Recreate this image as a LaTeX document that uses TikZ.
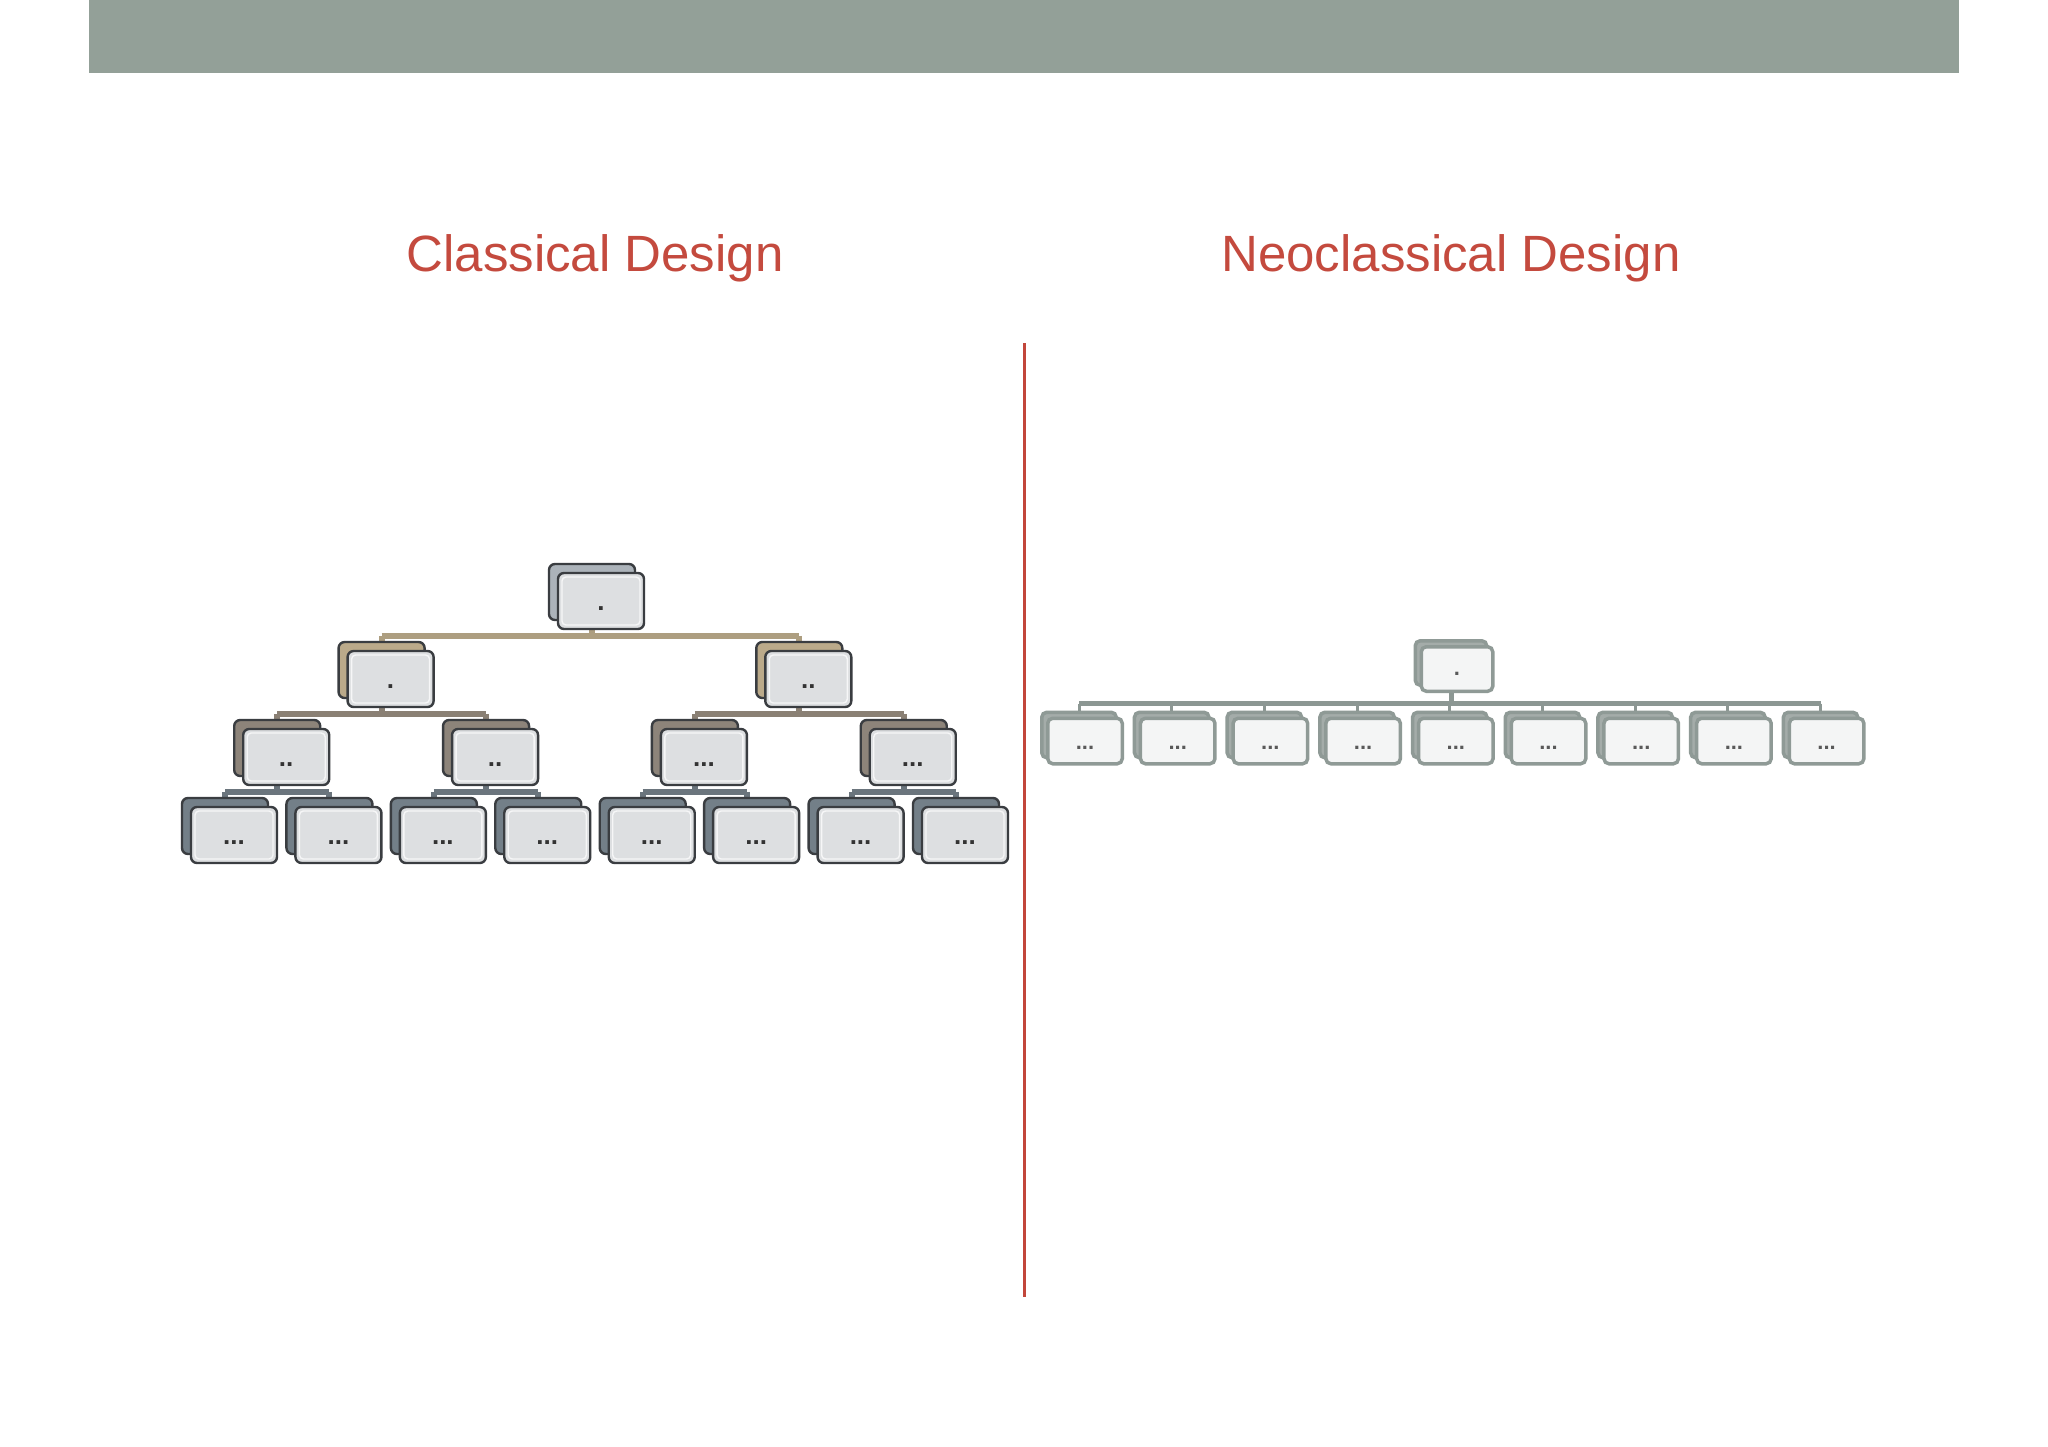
\documentclass[tikz,border=0pt]{standalone}
\usepackage{fontspec}
\setmainfont{Liberation Sans}
\usetikzlibrary{calc}
\pgfdeclarelayer{bg}
\pgfdeclarelayer{paper}
\pgfsetlayers{paper,bg,main}
\definecolor{hdr}{HTML}{93A098}
\definecolor{ttl}{HTML}{C44A3E}
\definecolor{redline}{HTML}{C2463B}
\definecolor{cborder}{HTML}{3A3D41}
\definecolor{cfront}{HTML}{DDDFE1}
\definecolor{back0}{HTML}{ACB3BA}
\definecolor{back1}{HTML}{BBAA8A}
\definecolor{back2}{HTML}{8D847A}
\definecolor{back3}{HTML}{737F88}
\definecolor{conn0}{HTML}{AD9E80}
\definecolor{conn1}{HTML}{8A8074}
\definecolor{conn2}{HTML}{6B757D}
\definecolor{nborder}{HTML}{8F9A96}
\definecolor{nfront}{HTML}{F4F5F5}
\definecolor{nback}{HTML}{A4ACA9}
\definecolor{nconn}{HTML}{8C9793}
\newcommand\mydots[1]{\ifcase#1\or.\or..\or...\fi}
\tikzset{
  cbox/.style={draw=cborder, line width=2.4pt, rounded corners=6pt,
    minimum width=86pt, minimum height=56pt, inner sep=0pt},
  cfrontbox/.style={cbox, fill=cfront,
    path picture={\draw[white, line width=1.4pt, opacity=0.75, rounded corners=4pt]
      ([shift={(4pt,-4pt)}]path picture bounding box.north west) rectangle
      ([shift={(-4pt,4pt)}]path picture bounding box.south east);}},
  cbackbox/.style={cbox, fill=#1},
  cconn/.style={line width=6pt, draw=#1},
  cdots/.style={font=\bfseries\fontsize{26}{26}\selectfont, text=black!80,
    anchor=base, inner sep=0pt},
  nbox/.style={draw=nborder, line width=3.5pt, rounded corners=5pt, inner sep=0pt},
  nfrontbox/.style={nbox, fill=nfront},
  nbackbox/.style={nbox, fill=nback},
  nconnbar/.style={line width=5pt, draw=nconn},
  ntick/.style={line width=3pt, draw=nconn},
  ndots/.style={font=\bfseries\fontsize{22}{22}\selectfont, text=black!65,
    anchor=base, inner sep=0pt},
  title/.style={font=\fontsize{51}{51}\selectfont, text=ttl, anchor=base, inner sep=0pt}
}
\begin{document}
\begin{tikzpicture}[x=1pt, y=-1pt]
\useasboundingbox (0,0) rectangle (2048,1447);
\begin{pgfonlayer}{paper}
\fill[white] (0,0) rectangle (2048,1447);
\end{pgfonlayer}
% header bar
\fill[hdr] (89,0) rectangle (1959,73);
% titles
\node[title] (tclass) at (595,272) {Classical Design};
\node[title] (tneo) at (1451,272) {Neoclassical Design};
% divider
\draw[redline, line width=3pt] (1024,343) -- (1024,1297);

% ---------- Classical tree ----------
% level 0
\node[cbackbox=back0] (b0) at (601-9,601-9) {};
\node[cfrontbox] (n0) at (601,601) {};
\node[cdots] (t0) at (601,610) {\mydots{1}};
% level 1
\foreach \k/\t in {0/1,1/2}{
  \pgfmathsetmacro\xx{390.6+417.7*\k}
  \node[cbackbox=back1] (b1-\k) at (\xx-9,679-9) {};
  \node[cfrontbox] (n1-\k) at (\xx,679) {};
  \node[cdots] (t1-\k) at (\xx,688) {\mydots{\t}};
}
% level 2
\foreach \j/\t in {0/2,1/2,2/3,3/3}{
  \pgfmathsetmacro\xx{286.2+208.86*\j}
  \node[cbackbox=back2] (b2-\j) at (\xx-9,757-9) {};
  \node[cfrontbox] (n2-\j) at (\xx,757) {};
  \node[cdots] (t2-\j) at (\xx,766) {\mydots{\t}};
}
% level 3
\foreach \i in {0,1,2,3,4,5,6,7}{
  \pgfmathsetmacro\xx{234+104.43*\i}
  \node[cbackbox=back3] (b3-\i) at (\xx-9,835-9) {};
  \node[cfrontbox] (n3-\i) at (\xx,835) {};
  \node[cdots] (t3-\i) at (\xx,844) {\mydots{3}};
}
% connectors
\begin{pgfonlayer}{bg}
  \coordinate (j0a) at ($(b1-0.north)+(0,-5)$);
  \coordinate (j0b) at ($(b1-1.north)+(0,-5)$);
  \draw[cconn=conn0] (j0a) -- (j0b);
  \draw[cconn=conn0] (b0.south) -- (b0.south |- j0a);
  \draw[cconn=conn0] (j0a) -- (b1-0.north);
  \draw[cconn=conn0] (j0b) -- (b1-1.north);
  \foreach \k in {0,1}{
    \pgfmathtruncatemacro\ca{2*\k}
    \pgfmathtruncatemacro\cb{2*\k+1}
    \coordinate (j1a-\k) at ($(b2-\ca.north)+(0,-5)$);
    \coordinate (j1b-\k) at ($(b2-\cb.north)+(0,-5)$);
    \draw[cconn=conn1] (j1a-\k) -- (j1b-\k);
    \draw[cconn=conn1] (b1-\k.south) -- (b1-\k.south |- j1a-\k);
    \draw[cconn=conn1] (j1a-\k) -- (b2-\ca.north);
    \draw[cconn=conn1] (j1b-\k) -- (b2-\cb.north);
  }
  \foreach \j in {0,1,2,3}{
    \pgfmathtruncatemacro\ca{2*\j}
    \pgfmathtruncatemacro\cb{2*\j+1}
    \coordinate (j2a-\j) at ($(b3-\ca.north)+(0,-5)$);
    \coordinate (j2b-\j) at ($(b3-\cb.north)+(0,-5)$);
    \draw[cconn=conn2] (j2a-\j) -- (j2b-\j);
    \draw[cconn=conn2] (b2-\j.south) -- (b2-\j.south |- j2a-\j);
    \draw[cconn=conn2] (j2a-\j) -- (b3-\ca.north);
    \draw[cconn=conn2] (j2b-\j) -- (b3-\cb.north);
  }
\end{pgfonlayer}

% ---------- Neoclassical tree ----------
\node[nbackbox, minimum width=71.5pt, minimum height=44.5pt] (nb0) at (1457-6,669-6) {};
\node[nfrontbox, minimum width=71.5pt, minimum height=44.5pt] (nn0) at (1457,669) {};
\node[ndots] (nt0) at (1457,675) {\mydots{1}};
\foreach \k in {0,1,2,3,4,5,6,7,8}{
  \pgfmathsetmacro\xx{1085+92.7*\k}
  \node[nbackbox, minimum width=74.5pt, minimum height=45.5pt] (nb1-\k) at (\xx-6,741-6) {};
  \node[nfrontbox, minimum width=74.5pt, minimum height=45.5pt] (nn1-\k) at (\xx,741) {};
  \node[ndots] (nt1-\k) at (\xx,749) {\mydots{3}};
}
\begin{pgfonlayer}{bg}
  \coordinate (nja) at ($(nb1-0.north)+(0,-7)$);
  \coordinate (njb) at ($(nb1-8.north)+(0,-7)$);
  \draw[nconnbar] (nja) -- (njb);
  \draw[nconnbar] (nb0.south) -- (nb0.south |- nja);
  \foreach \k in {0,1,2,3,4,5,6,7,8}{
    \draw[ntick] (nb1-\k.north |- nja) -- (nb1-\k.north);
  }
\end{pgfonlayer}
\end{tikzpicture}
\end{document}
